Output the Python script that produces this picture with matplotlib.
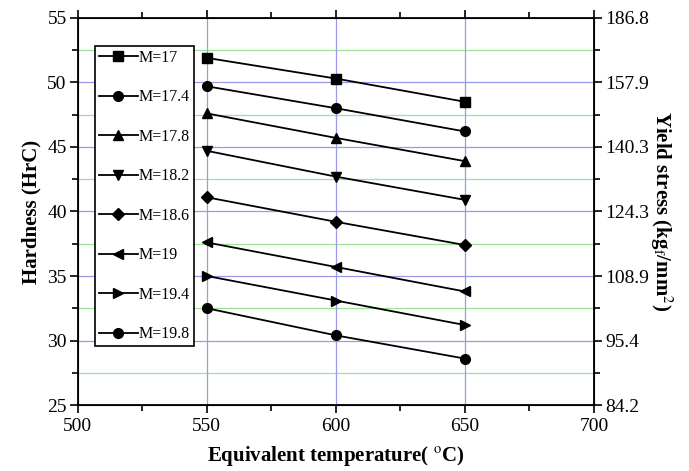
import matplotlib.pyplot as plt
import numpy as np

plt.rcParams['font.family'] = ['Liberation Serif', 'DejaVu Serif']
plt.rcParams['mathtext.fontset'] = 'stix'

temps = [550, 600, 650]
labels = ['M=17', 'M=17.4', 'M=17.8', 'M=18.2', 'M=18.6', 'M=19', 'M=19.4', 'M=19.8']
hardness = [
    [51.9, 50.3, 48.5],
    [49.7, 48.0, 46.2],
    [47.6, 45.7, 43.9],
    [44.7, 42.7, 40.9],
    [41.1, 39.2, 37.4],
    [37.6, 35.7, 33.8],
    [35.0, 33.1, 31.2],
    [32.5, 30.4, 28.6],
]
markers = ['s', 'o', '^', 'v', 'D', '<', '>', 'o']
left_ticks = [25, 30, 35, 40, 45, 50, 55]
right_labels = ['84.2', '95.4', '108.9', '124.3', '140.3', '157.9', '186.8']

fig = plt.figure(figsize=(6.89, 4.71), dpi=100)
ax = fig.add_axes([0.113, 0.140, 0.749, 0.822])

# grid: blue major, green minor
for y in [30, 35, 40, 45, 50]:
    ax.axhline(y, color='#9a9aea', lw=0.9, zorder=0)
for y in [27.5, 32.5, 37.5, 42.5, 47.5, 52.5]:
    ax.axhline(y, color='#9ee29a', lw=0.9, zorder=0)
for x in [550, 600, 650]:
    ax.axvline(x, color='#9a9aea', lw=0.9, zorder=0)

for lab, m, h in zip(labels, markers, hardness):
    ms = 6 if m in ('D',) else 7
    ax.plot(temps, h, color='black', lw=1.3, marker=m, markersize=ms, label=lab)

ax.set_xlim(500, 700)
ax.set_ylim(25, 55)
ax.set_xticks([500, 550, 600, 650, 700])
ax.set_xticks([525, 575, 625, 675], minor=True)
ax.set_yticks(left_ticks)
ax.set_yticks([27.5, 32.5, 37.5, 42.5, 47.5, 52.5], minor=True)
ax.tick_params(axis='both', which='major', labelsize=14, length=6, width=1.2, direction='out')
ax.tick_params(axis='both', which='minor', length=4, width=1.2, direction='out')
ax.tick_params(axis='x', top=True, which='both')
ax.tick_params(axis='y', pad=2)
for s in ax.spines.values():
    s.set_linewidth(1.3)

ax.set_xlabel('Equivalent temperature( $^{\\mathrm{o}}$C)', fontsize=15, fontweight='bold', labelpad=6)
ax.set_ylabel('Hardness (HrC)', fontsize=15, fontweight='bold', labelpad=4)

ax2 = ax.twinx()
ax2.set_ylim(25, 55)
ax2.set_yticks(left_ticks)
ax2.set_yticklabels(right_labels)
ax2.set_yticks([27.5, 32.5, 37.5, 42.5, 47.5, 52.5], minor=True)
ax2.tick_params(axis='y', which='major', labelsize=14, length=6, width=1.2, direction='out', pad=2)
ax2.tick_params(axis='y', which='minor', length=4, width=1.2, direction='out')
ax2.set_ylabel('Yield stress (kg$_{\\mathrm{f}}$/mm$^{2}$)', fontsize=15, fontweight='bold',
               rotation=-90, labelpad=18)

leg = ax.legend(loc='upper left', bbox_to_anchor=(0.033, 0.928), fontsize=11.5, frameon=True,
                fancybox=False, edgecolor='black', framealpha=1, handlelength=2.45,
                labelspacing=1.47, borderpad=0.25, handletextpad=0.05, borderaxespad=0)
leg.get_frame().set_linewidth(1.2)

fig.savefig('out.png', dpi=100)
